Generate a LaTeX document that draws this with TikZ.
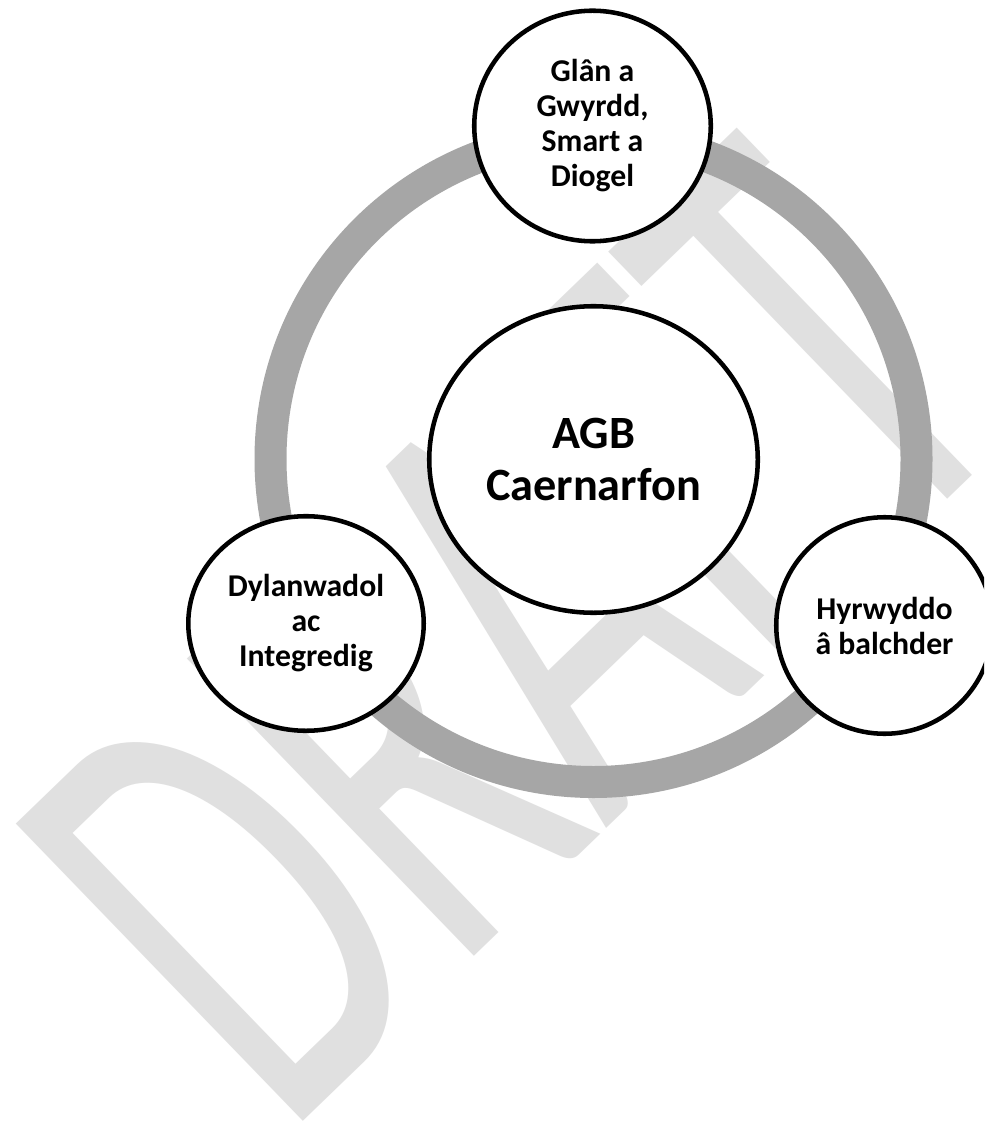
\documentclass[tikz,border=0pt]{standalone}
\usepackage{fontspec}
\setmainfont{Carlito}
\usetikzlibrary{shapes.geometric}
\definecolor{ringgray}{RGB}{166,166,166}
\definecolor{wmgray}{RGB}{224,224,224}
\begin{document}
\begin{tikzpicture}[x=0.75pt,y=-0.75pt,
  bubble/.style={ellipse, draw=black, line width=3.4pt, fill=white, inner sep=0pt, align=center,
    font=\bfseries\fontsize{23.8}{26.25}\selectfont},
  hub/.style={bubble, font=\bfseries\fontsize{34.7}{38.8}\selectfont},
  ringline/.style={draw=ringgray, line width=24pt},
  watermark/.style={text=wmgray, inner sep=0pt, font=\fontsize{288.75}{288.75}\selectfont}]
\useasboundingbox (0,0) rectangle (984,1144);
\clip (0,0) rectangle (984,1144);
\fill[white] (0,0) rectangle (984,1144);
% watermark
\node[watermark, anchor=base west, rotate=44] (wm) at (284.1,1139.8) {\scalebox{1}[1.673]{DRAFT}};
% ring
\coordinate (ringc) at (593.5,459);
\draw[ringline] (ringc) circle[radius=323];
% nodes
\node[hub, minimum width=246.4pt, minimum height=229.9pt] (hub) at (593.5,459.5) {AGB\\Caernarfon};
\node[bubble, minimum width=177.4pt, minimum height=172.9pt] (top) at (592.5,126) {Glân a\\Gwyrdd,\\Smart a\\Diogel};
\node[bubble, minimum width=176.6pt, minimum height=160.9pt] (left) at (306,623.5) {Dylanwadol\\ac\\Integredig};
\node[bubble, minimum width=162.4pt, minimum height=162.4pt] (right) at (884.5,625.5) {Hyrwyddo\\â balchder};
\end{tikzpicture}
\end{document}
